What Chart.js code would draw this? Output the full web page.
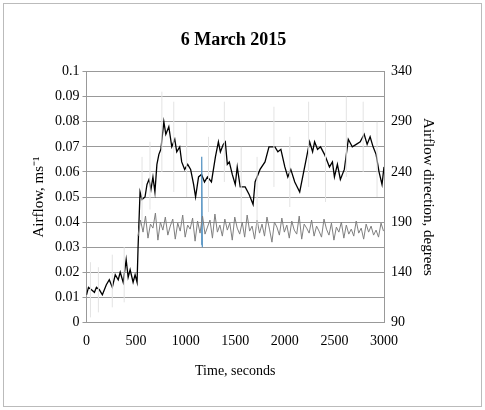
<!DOCTYPE html>
<html><head><meta charset="utf-8">
<script src="https://cdn.jsdelivr.net/npm/chart.js@4"></script>
<style>
html,body{margin:0;padding:0;background:#fff;}
#wrap{position:absolute;left:3px;top:3px;width:477px;height:402px;border:1px solid #bbb;}
</style>
</head><body>
<div id="wrap"><canvas id="c" width="477" height="402"></canvas></div>
<script>
// airflow, smoothed (time s, m/s)
const flowT = [0,20,50,80,100,130,160,200,230,260,290,320,340,370,400,420,440,470,490,510,520,540,560,590,610,630,650,670,690,710,730,750,780,800,830,860,890,910,940,960,990,1020,1050,1080,1100,1130,1160,1190,1220,1260,1300,1330,1350,1380,1400,1420,1440,1470,1500,1520,1550,1600,1640,1680,1700,1750,1800,1840,1880,1900,1930,1960,2000,2030,2060,2100,2150,2180,2220,2250,2280,2300,2330,2360,2400,2450,2480,2500,2530,2560,2600,2640,2680,2720,2760,2800,2830,2860,2890,2920,2950,2980,3000];
const flowV = [0.011,0.014,0.013,0.012,0.014,0.013,0.011,0.015,0.017,0.014,0.019,0.017,0.020,0.016,0.025,0.018,0.021,0.016,0.019,0.016,0.030,0.052,0.049,0.050,0.055,0.057,0.053,0.058,0.052,0.063,0.067,0.069,0.080,0.075,0.078,0.070,0.073,0.068,0.070,0.064,0.061,0.063,0.061,0.055,0.050,0.058,0.059,0.056,0.058,0.056,0.066,0.072,0.068,0.071,0.072,0.063,0.064,0.059,0.055,0.062,0.054,0.054,0.051,0.047,0.056,0.061,0.064,0.070,0.070,0.070,0.068,0.069,0.062,0.058,0.061,0.056,0.052,0.058,0.066,0.072,0.068,0.072,0.069,0.070,0.067,0.062,0.064,0.058,0.063,0.057,0.061,0.073,0.070,0.071,0.072,0.075,0.071,0.074,0.070,0.067,0.060,0.055,0.062];
// airflow direction (degrees), sampled every 25 s from 520 s
const dirStart = 520, dirStep = 25;
const dirV = [176,192,180,196,174,188,184,199,172,190,182,195,177,186,193,173,189,181,197,175,187,183,194,171,191,179,196,178,185,192,174,198,180,187,176,193,182,189,172,195,184,178,190,175,197,181,186,173,192,179,188,176,195,183,170,190,185,177,194,180,187,174,191,182,178,196,173,188,184,179,192,176,186,181,175,193,183,177,189,172,185,180,190,174,187,178,183,176,191,179,184,173,188,180,186,177,182,175,189,181];
// raw airflow spikes (faint vertical strokes): time, low, high
const rawT = [40,120,260,380,560,640,760,880,1010,1230,1390,1560,1720,1890,2050,2240,2410,2620,2790,2930];
const rawLo = [0.002,0.004,0.006,0.008,0.040,0.045,0.060,0.052,0.050,0.044,0.056,0.040,0.038,0.054,0.046,0.054,0.048,0.058,0.060,0.050];
const rawHi = [0.024,0.022,0.027,0.030,0.066,0.072,0.092,0.088,0.080,0.074,0.088,0.070,0.066,0.086,0.074,0.088,0.080,0.090,0.088,0.080];
// blue spike near 1160 s
const blueT = [1158,1162,1168];
const blueV = [0.031,0.066,0.030];

const dirPts = dirV.map((v,i)=>({x:dirStart+i*dirStep,y:v}));
const rawPts = [];
rawT.forEach((t,i)=>{ rawPts.push({x:t,y:rawLo[i]},{x:t,y:rawHi[i]},{x:t,y:null}); });
const serif = "'Liberation Serif', 'Times New Roman', serif";
Chart.defaults.font.family = serif;
Chart.defaults.color = '#000';

new Chart(document.getElementById('c'), {
  type:'line',
  data:{datasets:[
    {data:rawPts,borderColor:'#e3e3e3',borderWidth:1,pointRadius:0,spanGaps:false,yAxisID:'y'},
    {data:dirPts,borderColor:'#7f7f7f',borderWidth:1,pointRadius:0,yAxisID:'y2'},
    {data:blueT.map((t,i)=>({x:t,y:blueV[i]})),borderColor:'#4f8fc0',borderWidth:1.2,pointRadius:0,yAxisID:'y'},
    {data:flowT.map((t,i)=>({x:t,y:flowV[i]})),borderColor:'#000',borderWidth:1.3,pointRadius:0,yAxisID:'y'}
  ]},
  options:{
    responsive:false,animation:false,
    layout:{padding:{left:22,right:40,top:12,bottom:22}},
    plugins:{legend:{display:false},tooltip:{enabled:false},
      title:{display:true,text:'6 March 2015',font:{size:18,weight:'bold',family:serif},padding:{top:14,bottom:20}}},
    scales:{
      x:{type:'linear',min:0,max:3000,
        ticks:{stepSize:500,font:{size:14},callback:v=>String(v)},
        grid:{display:false,drawTicks:true},border:{color:'#999'},
        title:{display:true,text:'Time, seconds',font:{size:14},padding:{top:10}}},
      y:{min:0,max:0.1,ticks:{stepSize:0.01,font:{size:14},callback:v=>Math.round(v*100)/100},
        grid:{color:'#999',tickLength:4},border:{color:'#999'},
        title:{display:true,text:'Airflow, ms⁻¹',font:{size:15}}},
      y2:{position:'right',min:90,max:340,ticks:{stepSize:50,font:{size:14}},
        grid:{display:false,tickLength:4},border:{color:'#999'},
        title:{display:true,text:'Airflow direction, degrees',font:{size:15}}}
    }
  }
});
</script>
</body></html>
